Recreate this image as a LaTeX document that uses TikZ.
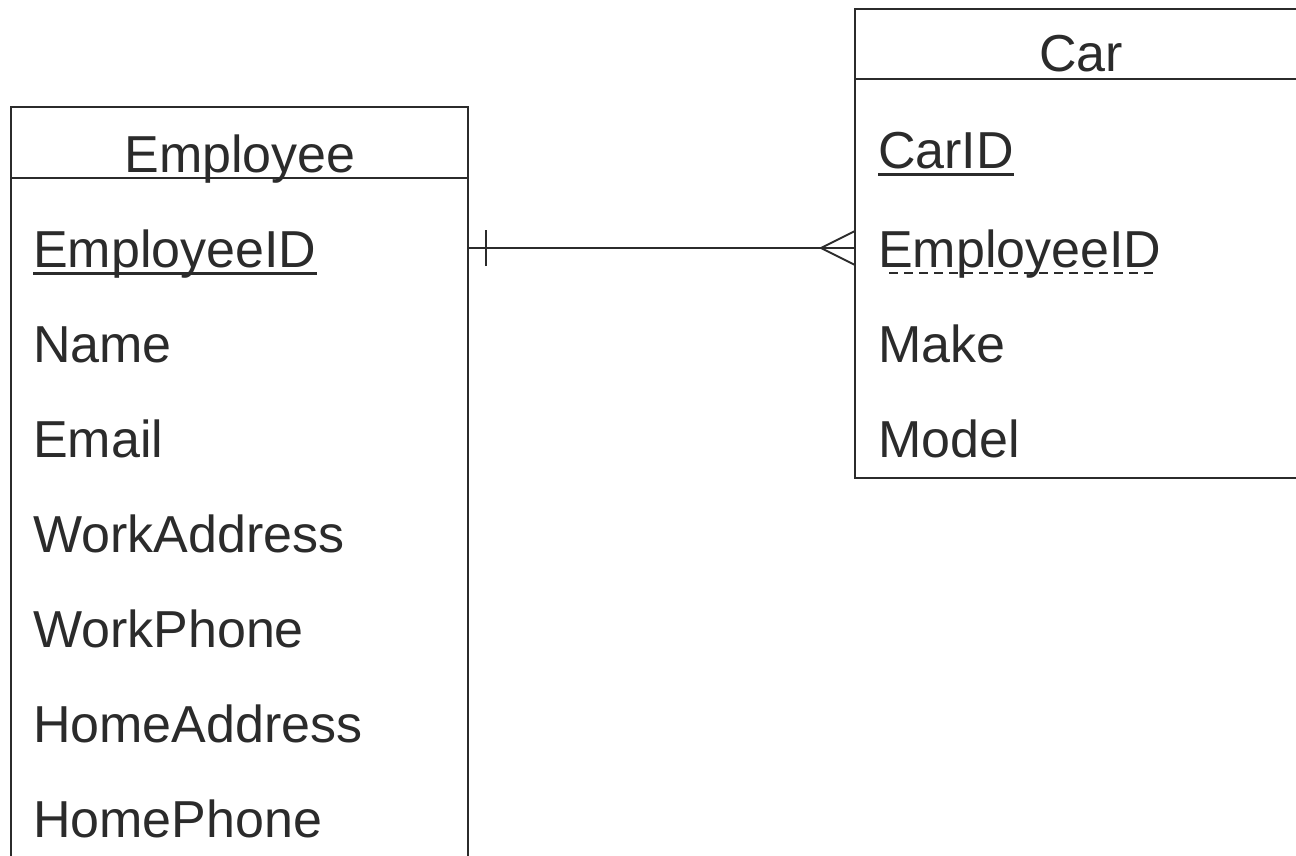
\documentclass[tikz,border=0pt]{standalone}
\usepackage{fontspec}
\setmainfont{Liberation Sans}
\definecolor{ink}{HTML}{2B2B2B}
\begin{document}
\begin{tikzpicture}[x=1pt,y=-1pt,
  entity/.style={draw=ink, line width=2pt, inner sep=0pt, outer sep=0pt},
  title/.style={text=ink, font=\fontsize{52}{60}\selectfont, inner sep=0pt, anchor=base},
  attr/.style={text=ink, font=\fontsize{52}{60}\selectfont, inner sep=0pt, anchor=base west},
  rule/.style={draw=ink, line width=2pt},
  pkline/.style={draw=ink, line width=3pt},
  fkline/.style={draw=ink, line width=1.8pt, dash pattern=on 9pt off 6pt},
  link/.style={draw=ink, line width=2pt}]
\useasboundingbox (0,0) rectangle (1296,856);
\clip (0,0) rectangle (1296,856);

% entity boxes
\node[entity, minimum width=457pt, minimum height=800pt, anchor=north west] (emp) at (11,107.5) {};
\node[entity, minimum width=452pt, minimum height=468.4pt, anchor=north west] (car) at (855,9.3) {};

% header separators
\coordinate (empsep) at (0,178);
\coordinate (carsep) at (0,79.5);
\draw[rule] (emp.west |- empsep) -- (emp.east |- empsep);
\draw[rule] (car.west |- carsep) -- (car.east |- carsep);

% titles
\node[title] (emptitle) at (240,172) {Employee};
\node[title] (cartitle) at (1081,72) {Car};

% Employee attributes
\node[attr] (eid)   at (33,267) {EmployeeID};
\node[attr] (ename) at (33,362.5) {Name};
\node[attr] (email) at (33,457.5) {Email};
\node[attr] (ewa)   at (33,552.5) {WorkAddress};
\node[attr] (ewp)   at (33,647.5) {WorkPhone};
\node[attr] (eha)   at (33,742.5) {HomeAddress};
\node[attr] (ehp)   at (33,837.5) {HomePhone};

% Car attributes
\node[attr] (cid)   at (878,168) {CarID};
\node[attr] (ceid)  at (878,267) {EmployeeID};
\node[attr] (cmake) at (878,362.5) {Make};
\node[attr] (cmod)  at (878,457.5) {Model};

% key underlines (canvas y points up, so shift down is negative)
\draw[pkline] ([yshift=-6.5pt]eid.base west) -- ([yshift=-6.5pt]eid.base east);
\draw[pkline] ([yshift=-6.5pt]cid.base west) -- ([yshift=-6.5pt]cid.base east);
\draw[fkline] ([xshift=11pt,yshift=-6pt]ceid.base west) -- ([xshift=-6pt,yshift=-6pt]ceid.base east);

% one-to-many relationship
\coordinate (rely) at (0,248);
\coordinate (one) at (emp.east |- rely);
\coordinate (many) at (car.west |- rely);
\draw[link] (one) -- (many);
\draw[link] ([xshift=18pt,yshift=-18pt]one) -- ([xshift=18pt,yshift=18pt]one);
\draw[link] ([yshift=-17pt]many) -- ([xshift=-34pt]many) -- ([yshift=17pt]many);
\end{tikzpicture}
\end{document}
